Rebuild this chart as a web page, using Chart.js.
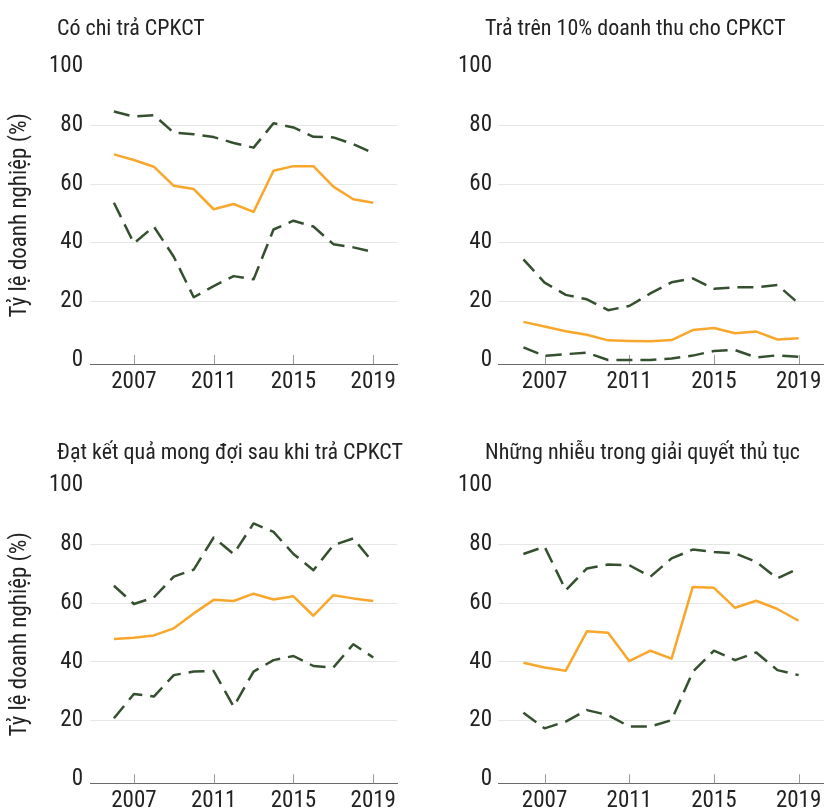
<!DOCTYPE html>
<html>
<head>
<meta charset="utf-8">
<script src="https://cdn.jsdelivr.net/npm/chart.js@4.4.1/dist/chart.umd.min.js"></script>
<style>
  html, body { margin: 0; padding: 0; background: #fff; overflow: hidden; width: 824px; height: 810px; }
  canvas { position: absolute; }
</style>
</head>
<body>
<canvas id="c1" width="412" height="405" style="left:0px;top:0px"></canvas>
<canvas id="c2" width="412" height="405" style="left:412px;top:0px"></canvas>
<canvas id="c3" width="412" height="405" style="left:0px;top:405px"></canvas>
<canvas id="c4" width="412" height="405" style="left:412px;top:405px"></canvas>
<script>
// ---- Data ----
const years = [2006, 2007, 2008, 2009, 2010, 2011, 2012, 2013, 2014, 2015, 2016, 2017, 2018, 2019];
const xTickYears = [2007, 2011, 2015, 2019];
const yTickValues = [0, 20, 40, 60, 80, 100];
const seriesLabels = ['Cận trên', 'Trung bình', 'Cận dưới'];
const yAxisTitle = 'Tỷ lệ doanh nghiệp (%)';
const panelTitles = [
  'Có chi trả CPKCT',
  'Trả trên 10% doanh thu cho CPKCT',
  'Đạt kết quả mong đợi sau khi trả CPKCT',
  'Những nhiễu trong giải quyết thủ tục'
];

const payUpper = [84.7, 83.0, 83.5, 77.5, 77.0, 76.0, 74.0, 72.4, 80.7, 79.3, 76.1, 75.9, 73.6, 70.5];
const payMean  = [70.1, 68.2, 65.9, 59.4, 58.3, 51.4, 53.2, 50.5, 64.5, 66.1, 66.1, 59.1, 54.8, 53.6];
const payLower = [53.6, 39.8, 45.5, 35.2, 21.4, 25.2, 28.6, 27.5, 44.5, 47.5, 45.5, 39.5, 38.4, 36.8];

const over10Upper = [34.3, 26.4, 22.2, 20.7, 17.0, 18.4, 22.7, 26.5, 27.8, 24.3, 24.8, 24.8, 25.6, 19.3];
const over10Mean  = [13.0, 11.4, 9.8, 8.6, 6.7, 6.5, 6.4, 6.8, 10.2, 10.9, 9.1, 9.7, 7.0, 7.4];
const over10Lower = [4.3, 1.4, 2.0, 2.5, 0.0, 0.0, 0.0, 0.5, 1.5, 3.1, 3.4, 0.9, 1.6, 1.1];

const resultUpper = [65.9, 59.7, 61.9, 69.0, 71.4, 82.3, 76.7, 87.1, 84.2, 76.7, 71.2, 79.7, 82.0, 73.7];
const resultMean  = [47.8, 48.2, 49.0, 51.4, 56.5, 61.1, 60.7, 63.2, 61.2, 62.3, 55.7, 62.7, 61.6, 60.7];
const resultLower = [20.8, 29.1, 28.2, 35.5, 36.7, 36.9, 24.8, 36.7, 40.6, 42.0, 38.6, 38.1, 46.0, 41.5];

const harassUpper = [76.7, 79.2, 64.4, 71.8, 73.1, 72.9, 69.0, 75.2, 78.2, 77.4, 76.9, 74.0, 68.4, 71.8];
const harassMean  = [39.7, 38.1, 37.0, 50.4, 49.9, 40.3, 43.8, 41.1, 65.5, 65.2, 58.4, 60.8, 58.0, 54.0];
const harassLower = [22.7, 17.4, 19.7, 23.6, 21.9, 18.0, 18.0, 20.2, 36.6, 43.8, 40.6, 43.2, 37.2, 35.5];

// ---- Styles ----
const FONT = "'Liberation Sans Narrow', 'Roboto Condensed', 'DejaVu Sans Condensed', 'Liberation Sans', sans-serif";
const GREEN = '#34502f';
const ORANGE = '#f9a72b';
const TEXT = '#222222';

const tickMarks = {
  id: 'tickMarks',
  beforeDatasetsDraw(chart) {
    const xs = chart.scales.x, a = chart.chartArea, ctx = chart.ctx;
    ctx.save();
    ctx.strokeStyle = '#9a9a9a';
    ctx.lineWidth = 1;
    xs.ticks.forEach(t => {
      const px = Math.round(xs.getPixelForValue(t.value)) + 0.5;
      ctx.beginPath();
      ctx.moveTo(px, a.bottom);
      ctx.lineTo(px, a.bottom - 9);
      ctx.stroke();
    });
    ctx.restore();
  }
};

const panelTitle = {
  id: 'panelTitle',
  afterDraw(chart, args, opts) {
    if (!opts.text) return;
    const ctx = chart.ctx;
    ctx.save();
    ctx.font = opts.size + 'px ' + FONT;
    ctx.fillStyle = TEXT;
    ctx.textAlign = 'left';
    ctx.textBaseline = 'alphabetic';
    ctx.fillText(opts.text, opts.x, opts.y);
    ctx.restore();
  }
};

function ds(label, values, color, dashed) {
  return {
    label: label,
    data: years.map((yr, i) => ({ x: yr, y: values[i] })),
    borderColor: color,
    backgroundColor: color,
    borderWidth: 2.5,
    borderDash: dashed ? [16, 8] : [],
    borderJoinStyle: 'round',
    pointRadius: 0,
    pointHoverRadius: 0,
    fill: false,
    tension: 0
  };
}

function makePanel(id, title, upper, mean, lower, g) {
  return new Chart(document.getElementById(id), {
    type: 'line',
    data: {
      datasets: [
        ds(seriesLabels[0], upper, GREEN, true),
        ds(seriesLabels[1], mean, ORANGE, false),
        ds(seriesLabels[2], lower, GREEN, true)
      ]
    },
    options: {
      responsive: false,
      animation: false,
      devicePixelRatio: 1,
      layout: { padding: { top: g.top, right: g.right, bottom: 0, left: 0 } },
      plugins: {
        legend: { display: false },
        tooltip: { enabled: false },
        title: { display: false },
        panelTitle: { text: title, x: g.titleX, y: g.titleY, size: 22 }
      },
      scales: {
        x: {
          type: 'linear',
          min: 2004.8,
          max: 2020.2,
          afterBuildTicks: s => { s.ticks = xTickYears.map(v => ({ value: v })); },
          afterFit: s => { s.height = g.xh; s.paddingLeft = 0; s.paddingRight = 0; },
          grid: { display: false, drawTicks: false },
          border: { display: true, color: '#6a6a6a', width: 1 },
          ticks: {
            font: { family: FONT, size: 23 },
            color: TEXT,
            padding: 4,
            maxRotation: 0,
            autoSkip: false,
            callback: v => String(v)
          }
        },
        y: {
          type: 'linear',
          min: g.ymin,
          max: 100,
          afterBuildTicks: s => { s.ticks = yTickValues.map(v => ({ value: v })); },
          afterFit: s => { s.width = g.yw; s.paddingTop = 0; s.paddingBottom = 0; },
          grid: {
            drawTicks: false,
            lineWidth: 1,
            color: c => (c.tick && (c.tick.value === 0 || c.tick.value === 100)) ? 'rgba(0,0,0,0)' : '#e6e6e6'
          },
          border: { display: false },
          ticks: {
            font: { family: FONT, size: 23 },
            color: TEXT,
            padding: g.ypad,
            callback: v => String(v)
          },
          title: {
            display: g.yTitle,
            text: yAxisTitle,
            font: { family: FONT, size: 23 },
            color: TEXT,
            padding: { top: 6, bottom: 0 }
          }
        }
      }
    },
    plugins: [tickMarks, panelTitle]
  });
}

makePanel('c1', panelTitles[0], payUpper, payMean, payLower,
  { top: 66.7, right: 14.8, yw: 90, xh: 41, ymin: -1.36, titleX: 57, titleY: 35, ypad: 7, yTitle: true });
makePanel('c2', panelTitles[1], over10Upper, over10Mean, over10Lower,
  { top: 66.7, right: 0, yw: 86, xh: 41, ymin: -1.36, titleX: 73, titleY: 35, ypad: 6, yTitle: false });
makePanel('c3', panelTitles[2], resultUpper, resultMean, resultLower,
  { top: 80.5, right: 14.8, yw: 90, xh: 26.7, ymin: -1.3, titleX: 57, titleY: 53.7, ypad: 7, yTitle: true });
makePanel('c4', panelTitles[3], harassUpper, harassMean, harassLower,
  { top: 80.5, right: 0, yw: 86, xh: 26.7, ymin: -1.3, titleX: 73, titleY: 53.7, ypad: 6, yTitle: false });
</script>
</body>
</html>
